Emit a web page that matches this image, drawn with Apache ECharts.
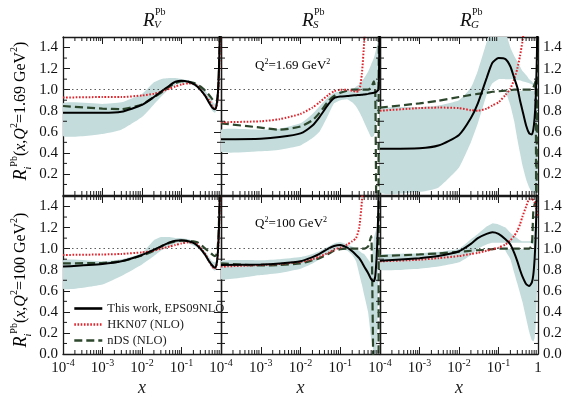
<!DOCTYPE html>
<html>
<head>
<meta charset="utf-8">
<script src="https://cdn.jsdelivr.net/npm/echarts@6/dist/echarts.min.js"></script>
<style>
  html, body { margin: 0; padding: 0; background: #fff; }
  #main { width: 573px; height: 399px; }
</style>
</head>
<body>
<div id="main"></div>
<script>
// common x grid
const X = [1e-4, 1e-3, 3e-3, 0.01, 0.02, 0.03, 0.05, 0.07, 0.1, 0.15, 0.2, 0.25, 0.3, 0.35, 0.4, 0.5, 0.6, 0.7, 0.76, 0.82, 0.87, 0.91, 0.94, 0.97];

// R_V, Q2 = 1.69 GeV2
const epsV1 = [0.78, 0.78, 0.79, 0.855, 0.93, 0.98, 1.04, 1.075, 1.085, 1.075, 1.055, 1.03, 1.0, 0.97, 0.94, 0.875, 0.83, 0.815, 0.84, 0.93, 1.1, 1.35, 1.6, 2.0];
const hknV1 = [0.925, 0.93, 0.93, 0.945, 0.96, 0.98, 1.01, 1.03, 1.05, 1.06, 1.055, 1.035, 1.0, 0.97, 0.94, 0.9, 0.84, 0.815, 0.83, 0.9, 1.05, 1.25, 1.5, 1.8];
const ndsV1 = [0.845, 0.82, 0.815, 0.86, 0.93, 0.97, 1.03, 1.06, 1.08, 1.075, 1.065, 1.05, 1.03, 1.01, 0.99, 0.95, 0.91, 0.885, 0.885, 0.93, 1.08, 1.35, 1.6, 2.0];
const bandV1Hi = [0.87, 0.865, 0.88, 0.96, 1.07, 1.1, 1.11, 1.11, 1.1, 1.09, 1.075, 1.055, 1.035, 1.01, 0.99, 0.94, 0.89, 0.865, 0.88, 0.97, 1.15, 1.4, 1.65, 2.0];
const bandV1Lo = [0.56, 0.58, 0.62, 0.74, 0.86, 0.93, 1.01, 1.045, 1.06, 1.055, 1.04, 1.02, 0.99, 0.96, 0.93, 0.86, 0.8, 0.78, 0.8, 0.88, 1.05, 1.3, 1.55, 1.9];

// R_S, Q2 = 1.69 GeV2
const epsS1 = [0.53, 0.535, 0.55, 0.585, 0.66, 0.74, 0.86, 0.92, 0.935, 0.94, 0.945, 0.948, 0.95, 0.952, 0.955, 0.96, 0.965, 0.97, 0.975, 0.98, 0.99, 1.0, 1.1, 1.6];
const hknS1 = [0.69, 0.70, 0.72, 0.77, 0.83, 0.88, 0.95, 0.985, 1.0, 1.0, 0.99, 0.98, 0.99, 1.15, 1.45, 2, 2, 2, 2, 2, 2, 2, 2, 2];
const ndsS1 = [0.68, 0.64, 0.62, 0.65, 0.71, 0.78, 0.89, 0.94, 0.97, 0.99, 1.0, 1.0, 1.0, 1.0, 1.0, 1.0, 1.02, 1.08, 0.98, -0.3, -0.3, -0.3, 2.0, 2.0];
const bandS1Hi = [0.62, 0.62, 0.63, 0.68, 0.77, 0.84, 0.93, 0.97, 0.985, 0.99, 1.0, 1.03, 1.05, 1.08, 1.11, 1.17, 1.24, 1.3, 1.35, 1.4, 1.45, 1.5, 1.55, 1.6];
const bandS1Lo = [0.41, 0.415, 0.43, 0.47, 0.54, 0.6, 0.76, 0.87, 0.9, 0.91, 0.88, 0.84, 0.79, 0.74, 0.69, 0.61, 0.55, 0.56, 0.62, 0.72, 0.82, 0.92, 1.0, 1.1];

// R_G, Q2 = 1.69 GeV2 (band in two pieces, white gap above 1.0)
const epsG1 = [0.44, 0.445, 0.47, 0.57, 0.73, 0.87, 1.11, 1.255, 1.30, 1.29, 1.22, 1.11, 1.02, 0.9, 0.81, 0.66, 0.585, 0.575, 0.62, 0.73, 0.89, 1.11, 1.35, 1.7];
const hknG1 = [0.80, 0.825, 0.83, 0.825, 0.805, 0.80, 0.82, 0.85, 0.88, 0.95, 1.01, 1.1, 1.2, 1.32, 1.45, 1.7, 2, 2, 2, 2, 2, 2, 2, 2];
const ndsG1 = [0.83, 0.87, 0.895, 0.93, 0.95, 0.96, 0.97, 0.98, 0.985, 0.99, 0.995, 1.0, 1.0, 1.0, 1.0, 1.0, 1.0, 1.0, 1.02, 1.05, 1.08, -0.5, -0.5, 2.0];
const bandG1Hi = [0.81, 0.835, 0.85, 0.9, 1.02, 1.18, 1.45, 1.6, 1.65, 1.55, 1.4, 1.32, 1.27, 1.22, 1.18, 1.14, 1.1, 1.08, 1.06, 1.08, 1.15, 1.3, 1.45, 1.6];
const bandG1Lo = [0.025, 0.03, 0.07, 0.26, 0.5, 0.68, 0.95, 1.06, 1.1, 1.1, 1.1, 1.1, 1.09, 1.09, 1.08, 1.07, 1.06, 1.05, 1.04, 0.99, 0.99, 0.99, 0.99, 0.99];
const bandG1bHi = [null, null, null, null, null, null, null, null, null, 0.99, 0.99, 0.99, 0.99, 0.99, 0.99, 0.99, 0.99, 0.99, 0.99, 0.99, 0.99, 0.99, 0.99, 0.99];
const bandG1bLo = [null, null, null, null, null, null, null, null, null, 0.99, 0.85, 0.7, 0.53, 0.4, 0.29, 0.15, 0.07, 0.03, 0.02, 0.01, 0.01, 0.02, 0.05, 0.1];

// R_V, Q2 = 100 GeV2
const epsV2 = [0.83, 0.855, 0.88, 0.94, 0.99, 1.02, 1.06, 1.075, 1.08, 1.07, 1.055, 1.03, 1.0, 0.97, 0.94, 0.88, 0.84, 0.82, 0.84, 0.93, 1.1, 1.35, 1.6, 2.0];
const hknV2 = [0.94, 0.945, 0.95, 0.965, 0.98, 1.0, 1.02, 1.035, 1.05, 1.06, 1.055, 1.04, 1.01, 0.98, 0.95, 0.88, 0.83, 0.81, 0.83, 0.92, 1.08, 1.3, 1.55, 2.0];
const ndsV2 = [0.86, 0.865, 0.88, 0.935, 0.98, 1.02, 1.055, 1.07, 1.075, 1.075, 1.07, 1.06, 1.04, 1.02, 1.0, 0.97, 0.945, 0.93, 0.94, 1.0, 1.15, 1.4, 1.7, 2.0];
const bandV2Hi = [0.89, 0.88, 0.9, 0.96, 1.08, 1.11, 1.11, 1.1, 1.1, 1.09, 1.07, 1.05, 1.02, 0.99, 0.97, 0.92, 0.88, 0.87, 0.89, 0.98, 1.15, 1.4, 1.65, 2.0];
const bandV2Lo = [0.62, 0.66, 0.74, 0.85, 0.93, 0.98, 1.02, 1.05, 1.06, 1.05, 1.03, 1.01, 0.98, 0.95, 0.92, 0.86, 0.81, 0.79, 0.81, 0.9, 1.05, 1.3, 1.55, 1.9];

// R_S, Q2 = 100 GeV2
const epsS2 = [0.845, 0.85, 0.86, 0.88, 0.92, 0.95, 1.0, 1.025, 1.035, 1.01, 0.975, 0.94, 0.91, 0.87, 0.83, 0.77, 0.71, 0.69, 0.74, 0.91, 1.13, 1.4, 1.8, 2];
const hknS2 = [0.83, 0.845, 0.855, 0.875, 0.9, 0.925, 0.96, 0.99, 1.01, 1.04, 1.07, 1.1, 1.2, 1.45, 1.8, 2, 2, 2, 2, 2, 2, 2, 2, 2];
const ndsS2 = [0.86, 0.84, 0.845, 0.86, 0.89, 0.91, 0.95, 0.98, 0.995, 1.0, 1.0, 1.0, 1.0, 1.0, 1.0, 1.02, 1.12, -0.3, -0.3, -0.3, -0.3, -0.3, 2.0, 2.0];
const bandS2Hi = [0.88, 0.89, 0.9, 0.92, 0.95, 0.975, 1.02, 1.05, 1.06, 1.04, 1.02, 1.0, 0.98, 0.96, 0.95, 0.9, 0.86, 1.1, 1.15, 1.2, 1.4, 1.6, 1.8, 2];
const bandS2Lo = [0.71, 0.75, 0.77, 0.81, 0.86, 0.9, 0.96, 0.99, 1.0, 0.98, 0.94, 0.88, 0.76, 0.66, 0.56, 0.4, 0.15, 0.02, 0.0, 0.0, 0.3, 0.8, 1.2, 1.6];

// R_G, Q2 = 100 GeV2 (band in two pieces)
const epsG2 = [0.885, 0.91, 0.93, 0.975, 1.045, 1.1, 1.14, 1.155, 1.14, 1.09, 1.04, 0.96, 0.88, 0.8, 0.74, 0.665, 0.645, 0.68, 0.75, 0.9, 1.1, 1.35, 1.6, 2.0];
const hknG2 = [0.88, 0.895, 0.91, 0.93, 0.95, 0.96, 0.98, 0.995, 1.01, 1.04, 1.08, 1.12, 1.17, 1.23, 1.3, 1.4, 1.47, 1.47, 1.46, 1.44, 1.41, 1.38, 1.35, 1.3];
const ndsG2 = [0.93, 0.945, 0.955, 0.97, 0.98, 0.985, 0.99, 0.995, 1.0, 1.0, 1.0, 1.0, 1.0, 1.0, 1.0, 1.0, 1.0, 1.04, 1.35, 1.42, 1.44, 1.45, 1.45, 1.45];
const bandG2Hi = [0.94, 0.955, 0.97, 1.0, 1.09, 1.14, 1.21, 1.24, 1.23, 1.2, 1.15, 1.12, 1.1, 1.08, 1.07, 1.07, 1.07, 1.08, 1.1, 1.2, 1.35, 1.45, 1.5, 1.5];
const bandG2Lo = [0.8, 0.81, 0.83, 0.87, 0.94, 1.0, 1.04, 1.055, 1.055, 1.055, 1.055, 1.055, 1.055, 1.055, 1.055, 1.055, 1.055, 1.05, 1.04, 0.995, 0.995, 0.995, 0.995, 0.995];
const bandG2bHi = [null, null, null, null, null, null, null, null, null, 0.995, 0.995, 0.995, 0.995, 0.995, 0.995, 0.995, 0.995, 0.995, 0.995, 0.995, 0.995, 0.995, 0.995, 0.995];
const bandG2bLo = [null, null, null, null, null, null, null, null, null, 0.98, 0.9, 0.77, 0.67, 0.58, 0.5, 0.34, 0.21, 0.13, 0.12, 0.15, 0.25, 0.4, 0.6, 0.8];

const NAMES = ['This work, EPS09NLO', 'HKN07 (NLO)', 'nDS (NLO)'];
const FONT = 'Liberation Serif';
const FRAME = '#1a1a1a';
const BAND = '#c4dcdc';

const panels = [
  {row: 0, col: 0, eps: epsV1, hkn: hknV1, nds: ndsV1, bands: [[bandV1Lo, bandV1Hi]]},
  {row: 0, col: 1, eps: epsS1, hkn: hknS1, nds: ndsS1, bands: [[bandS1Lo, bandS1Hi]]},
  {row: 0, col: 2, eps: epsG1, hkn: hknG1, nds: ndsG1, bands: [[bandG1Lo, bandG1Hi], [bandG1bLo, bandG1bHi]]},
  {row: 1, col: 0, eps: epsV2, hkn: hknV2, nds: ndsV2, bands: [[bandV2Lo, bandV2Hi]]},
  {row: 1, col: 1, eps: epsS2, hkn: hknS2, nds: ndsS2, bands: [[bandS2Lo, bandS2Hi]]},
  {row: 1, col: 2, eps: epsG2, hkn: hknG2, nds: ndsG2, bands: [[bandG2Lo, bandG2Hi], [bandG2bLo, bandG2bHi]]}
];

const colLeft = [63, 221, 380];
const colWidth = [158, 159, 158];
const rowTop = [37, 196];
const panelH = 158;

// minor tick positions
const minorTicks = [];
for (let d = -4; d <= -1; d++) {
  for (let k = 2; k <= 9; k++) minorTicks.push([k * Math.pow(10, d), 0.75, 0]);
}
[0.1, 0.3, 0.5, 0.7, 0.9, 1.1, 1.3].forEach(v => minorTicks.push([0.01, v, 1]));

const pairs = arr => X.map((x, i) => [x, arr[i]]);

function tickLine(x1, y1, x2, y2) {
  return {type: 'line', shape: {x1, y1, x2, y2}, style: {stroke: FRAME, lineWidth: 1}};
}

const supRich = {
  b: {fontFamily: FONT, fontSize: 15, lineHeight: 20, color: '#111'},
  s: {fontFamily: FONT, fontSize: 10, lineHeight: 9, verticalAlign: 'top', color: '#111'}
};

const grid = [], xAxis = [], yAxis = [], series = [];

panels.forEach((p, i) => {
  grid.push({left: colLeft[p.col], top: rowTop[p.row], width: colWidth[p.col], height: panelH});

  const xBase = {
    type: 'log', logBase: 10, gridIndex: i, min: 1e-4, max: 1,
    axisLine: {show: true, onZero: false, lineStyle: {color: FRAME, width: 1.3}},
    axisTick: {show: true, inside: true, length: 7, lineStyle: {color: FRAME, width: 1}},
    splitLine: {show: false}
  };
  xAxis.push(Object.assign({}, xBase, {
    position: 'bottom',
    name: p.row === 1 ? 'x' : '',
    nameLocation: 'middle', nameGap: 25,
    nameTextStyle: {fontFamily: FONT, fontStyle: 'italic', fontSize: 18, color: '#222'},
    axisLabel: p.row === 1 ? {
      show: true, margin: 4,
      showMaxLabel: p.col === 2,
      formatter: v => v >= 1 ? '{b|1}' : '{b|10}{s|' + Math.round(Math.log10(v)) + '}',
      rich: supRich
    } : {show: false}
  }));
  xAxis.push(Object.assign({}, xBase, {position: 'top', axisLabel: {show: false}}));

  const yBase = {
    type: 'value', gridIndex: i, min: 0, max: 1.5, interval: 0.2,
    axisLine: {show: true, onZero: false, lineStyle: {color: FRAME, width: 1.3}},
    axisTick: {show: true, inside: true, length: 7, lineStyle: {color: FRAME, width: 1}},
    splitLine: {show: false}
  };
  const yLabel = {
    show: true, margin: 5, fontFamily: FONT, fontSize: 15, color: '#111',
    showMinLabel: p.row === 1, showMaxLabel: false,
    formatter: v => v.toFixed(1)
  };
  yAxis.push(Object.assign({}, yBase, {position: 'left', axisLabel: p.col === 0 ? yLabel : {show: false}}));
  yAxis.push(Object.assign({}, yBase, {position: 'right', axisLabel: p.col === 2 ? yLabel : {show: false}}));

  // uncertainty band(s)
  p.bands.forEach(([lo, hi]) => {
    series.push({
      type: 'custom', xAxisIndex: 2 * i, yAxisIndex: 2 * i, clip: true, silent: true, z: 1,
      data: [[0.01, 1]],
      renderItem: (params, api) => {
        const top = [], bot = [];
        X.forEach((x, k) => {
          if (lo[k] == null || hi[k] == null) return;
          top.push(api.coord([x, hi[k]]));
          bot.push(api.coord([x, lo[k]]));
        });
        return {type: 'polygon', shape: {points: top.concat(bot.reverse()), smooth: 0.15}, style: {fill: BAND}};
      }
    });
  });

  // minor ticks on the frame
  series.push({
    type: 'custom', xAxisIndex: 2 * i, yAxisIndex: 2 * i, silent: true, z: 5,
    data: minorTicks,
    renderItem: (params, api) => {
      const cs = params.coordSys;
      const pt = api.coord([api.value(0), api.value(1)]);
      const L = 4;
      if (api.value(2) === 0) {
        return {type: 'group', children: [
          tickLine(pt[0], cs.y + cs.height, pt[0], cs.y + cs.height - L),
          tickLine(pt[0], cs.y, pt[0], cs.y + L)
        ]};
      }
      return {type: 'group', children: [
        tickLine(cs.x, pt[1], cs.x + L, pt[1]),
        tickLine(cs.x + cs.width - L, pt[1], cs.x + cs.width, pt[1])
      ]};
    }
  });

  series.push({
    name: NAMES[2], type: 'line', xAxisIndex: 2 * i, yAxisIndex: 2 * i,
    data: pairs(p.nds), showSymbol: false, symbol: 'none', z: 2, smooth: 0.2,
    lineStyle: {color: '#2d472d', width: 2.2, type: [8, 4]}, itemStyle: {color: '#2d472d'}
  });
  series.push({
    name: NAMES[1], type: 'line', xAxisIndex: 2 * i, yAxisIndex: 2 * i,
    data: pairs(p.hkn), showSymbol: false, symbol: 'none', z: 3, smooth: 0.2,
    lineStyle: {color: '#e0222b', width: 2, type: [1.6, 1.6]}, itemStyle: {color: '#e0222b'}
  });
  series.push({
    name: NAMES[0], type: 'line', xAxisIndex: 2 * i, yAxisIndex: 2 * i,
    data: pairs(p.eps), showSymbol: false, symbol: 'none', z: 4, smooth: 0.2,
    lineStyle: {color: '#000', width: 2}, itemStyle: {color: '#000'},
    markLine: {
      silent: true, symbol: ['none', 'none'], label: {show: false},
      lineStyle: {color: '#333', width: 0.8, type: [1.5, 3]},
      data: [{yAxis: 1}]
    }
  });
});

// column headers R_V^Pb, R_S^Pb, R_G^Pb
const colTitles = ['V', 'S', 'G'];
const headerX = [143, 302, 460];
const graphic = [];
colTitles.forEach((s, c) => {
  graphic.push({type: 'text', x: headerX[c], y: 21, style: {text: 'R', font: 'italic 19px ' + FONT, fill: '#111', textVerticalAlign: 'middle'}});
  graphic.push({type: 'text', x: headerX[c] + 12, y: 12, style: {text: 'Pb', font: '10px ' + FONT, fill: '#111', textVerticalAlign: 'middle'}});
  graphic.push({type: 'text', x: headerX[c] + 11, y: 25, style: {text: s, font: 'italic 11px ' + FONT, fill: '#111', textVerticalAlign: 'middle'}});
});

const titleRich = {
  r: {fontFamily: FONT, fontStyle: 'italic', fontSize: 18, lineHeight: 24, color: '#111'},
  m: {fontFamily: FONT, fontSize: 16, lineHeight: 24, color: '#111'},
  i: {fontFamily: FONT, fontStyle: 'italic', fontSize: 16, lineHeight: 24, color: '#111'},
  sp: {fontFamily: FONT, fontSize: 10, lineHeight: 11, verticalAlign: 'top', color: '#111'},
  sb: {fontFamily: FONT, fontStyle: 'italic', fontSize: 10, lineHeight: 11, verticalAlign: 'bottom', color: '#111'}
};
[['1.69', 111], ['100', 280]].forEach(([q, cy]) => {
  graphic.push({
    type: 'text', x: 21, y: cy, rotation: Math.PI / 2,
    style: {
      text: '{r|R}{sb|i}{sp|Pb}{m|(}{i|x}{m|,}{i|Q}{sp|2}{m|=' + q + ' GeV}{sp|2}{m|)}',
      rich: titleRich, textAlign: 'center', textVerticalAlign: 'middle'
    }
  });
});

const noteRich = {
  m: {fontFamily: FONT, fontSize: 13, lineHeight: 16, color: '#222'},
  s: {fontFamily: FONT, fontSize: 8, lineHeight: 8, verticalAlign: 'top', color: '#222'}
};
[['1.69', 66], ['100', 224]].forEach(([q, cy]) => {
  graphic.push({
    type: 'text', x: 255, y: cy,
    style: {text: '{m|Q}{s|2}{m|=' + q + ' GeV}{s|2}', rich: noteRich, textVerticalAlign: 'middle'}
  });
});

const chart = echarts.init(document.getElementById('main'), null, {renderer: 'canvas'});
chart.setOption({
  animation: false,
  backgroundColor: '#fff',
  grid, xAxis, yAxis, series, graphic,
  legend: {
    data: NAMES, orient: 'vertical', left: 68, top: 297,
    itemWidth: 28, itemHeight: 12, itemGap: 3,
    itemStyle: {opacity: 0},
    lineStyle: {width: 2.6},
    textStyle: {fontFamily: FONT, fontSize: 12.5, color: '#222'}
  }
});
</script>
</body>
</html>
